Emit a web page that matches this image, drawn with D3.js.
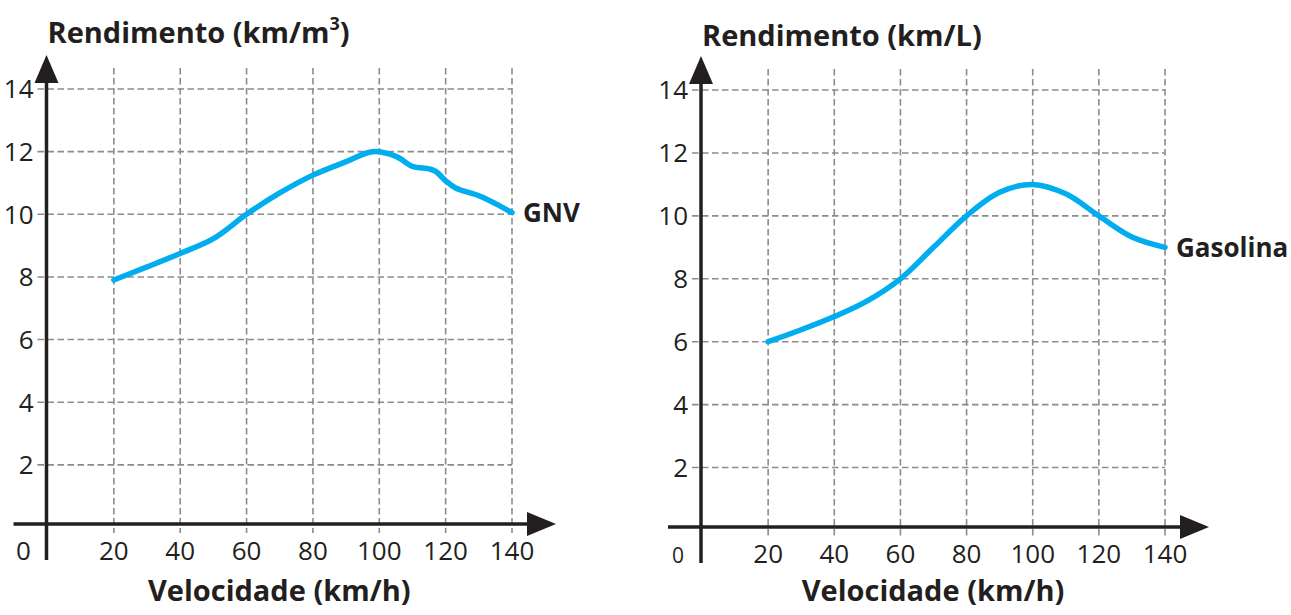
<!DOCTYPE html>
<html>
<head>
<meta charset="utf-8">
<script src="https://cdn.jsdelivr.net/npm/d3@7"></script>
<style>
  html, body { margin: 0; padding: 0; background: #fff; }
  svg { display: block; font-family: "Open Sans", sans-serif; }
</style>
</head>
<body>
<svg id="chart" width="1291" height="615"></svg>
<script>
// values
const yTicks = [2, 4, 6, 8, 10, 12, 14];
const xTicks = [20, 40, 60, 80, 100, 120, 140];

const gnvSpeed = [20, 30, 40, 50, 60, 70, 80, 90, 98, 105, 110, 115, 117, 120, 123, 130, 135, 140];
const gnvValue = [7.9, 8.32, 8.75, 9.22, 10.0, 10.68, 11.25, 11.68, 12.0, 11.85, 11.53, 11.45, 11.37, 11.07, 10.84, 10.59, 10.34, 10.05];

const gasSpeed = [20, 30, 40, 50, 60, 70, 80, 90, 100, 110, 120, 130, 140];
const gasValue = [6.0, 6.38, 6.8, 7.3, 8.0, 9.0, 10.0, 10.75, 11.0, 10.7, 10.0, 9.33, 9.0];

const ink = "#231f20";
const svg = d3.select("#chart");

function drawPanel({ xRange, yRange, speeds, values, seriesName, yTitle, superscript, titleY, zeroSize }) {
  const x = d3.scaleLinear().domain([0, 140]).range(xRange);
  const y = d3.scaleLinear().domain([0, 14]).range(yRange);
  const g = svg.append("g");
  const axisY = y(0) - 3.5;
  const ax = x(0) - 1;

  // grid
  const grid = g.append("g")
    .attr("stroke", "#8c8c8c")
    .attr("stroke-width", 1.6)
    .attr("stroke-dasharray", "6.5,3.5");

  grid.selectAll("line.h")
    .data(yTicks)
    .join("line")
    .attr("class", "h")
    .attr("x1", ax - 9).attr("x2", x(140))
    .attr("y1", d => y(d)).attr("y2", d => y(d));

  grid.selectAll("line.v")
    .data(xTicks)
    .join("line")
    .attr("class", "v")
    .attr("x1", d => x(d)).attr("x2", d => x(d))
    .attr("y1", y(14) - 21).attr("y2", axisY + 9);

  // axes with arrowheads
  const yAxisTop = y(14) - 34;
  g.append("line")
    .attr("x1", ax).attr("x2", ax)
    .attr("y1", axisY + 36).attr("y2", yAxisTop + 20)
    .attr("stroke", ink).attr("stroke-width", 3.5);
  g.append("path")
    .attr("d", `M${ax},${yAxisTop} L${ax - 12},${yAxisTop + 28} L${ax + 12},${yAxisTop + 28} Z`)
    .attr("fill", ink);

  const xAxisEnd = x(140) + 44;
  g.append("line")
    .attr("x1", ax - 33).attr("x2", xAxisEnd - 20)
    .attr("y1", axisY).attr("y2", axisY)
    .attr("stroke", ink).attr("stroke-width", 3.5);
  g.append("path")
    .attr("d", `M${xAxisEnd},${axisY} L${xAxisEnd - 29},${axisY - 12} L${xAxisEnd - 29},${axisY + 12} Z`)
    .attr("fill", ink);

  // tick labels
  g.selectAll("text.yt")
    .data(yTicks)
    .join("text")
    .attr("class", "yt")
    .attr("x", ax - 13)
    .attr("y", d => y(d))
    .attr("dy", "0.36em")
    .attr("text-anchor", "end")
    .attr("font-size", 26)
    .attr("fill", ink)
    .text(d => d);

  g.selectAll("text.xt")
    .data(xTicks)
    .join("text")
    .attr("class", "xt")
    .attr("x", d => x(d))
    .attr("y", axisY + 36)
    .attr("text-anchor", "middle")
    .attr("font-size", 26)
    .attr("fill", ink)
    .text(d => d);

  g.append("text")
    .attr("x", ax - 23)
    .attr("y", axisY + 36)
    .attr("text-anchor", "middle")
    .attr("font-size", zeroSize)
    .attr("fill", ink)
    .text("0");

  // titles
  const t = g.append("text")
    .attr("x", ax + 1)
    .attr("y", titleY)
    .attr("font-size", 29)
    .attr("font-weight", 700)
    .attr("fill", ink)
    .text(yTitle);
  if (superscript) {
    t.append("tspan").attr("font-size", 18).attr("dy", -13).text(superscript);
    t.append("tspan").attr("dy", 13).text(")");
  }

  g.append("text")
    .attr("x", (ax + x(140)) / 2)
    .attr("y", 601)
    .attr("text-anchor", "middle")
    .attr("font-size", 29)
    .attr("font-weight", 700)
    .attr("fill", ink)
    .text("Velocidade (km/h)");

  // series
  const pts = speeds.map((s, i) => [s, values[i]]);
  const line = d3.line()
    .x(d => x(d[0]))
    .y(d => y(d[1]))
    .curve(d3.curveCatmullRom.alpha(0.5));

  g.append("path")
    .attr("d", line(pts))
    .attr("fill", "none")
    .attr("stroke", "#00aeef")
    .attr("stroke-width", 5.5)
    .attr("stroke-linecap", "round");

  const last = pts[pts.length - 1];
  g.append("text")
    .attr("x", x(last[0]) + 11)
    .attr("y", y(last[1]))
    .attr("dy", "0.36em")
    .attr("font-size", 26)
    .attr("font-weight", 700)
    .attr("fill", ink)
    .text(seriesName);
}

drawPanel({
  xRange: [47.5, 512], yRange: [527.5, 89],
  speeds: gnvSpeed, values: gnvValue, seriesName: "GNV",
  yTitle: "Rendimento (km/m", superscript: "3", titleY: 43, zeroSize: 26
});

drawPanel({
  xRange: [702, 1165], yRange: [530.5, 90],
  speeds: gasSpeed, values: gasValue, seriesName: "Gasolina",
  yTitle: "Rendimento (km/L)", superscript: null, titleY: 46, zeroSize: 21
});
</script>
</body>
</html>
